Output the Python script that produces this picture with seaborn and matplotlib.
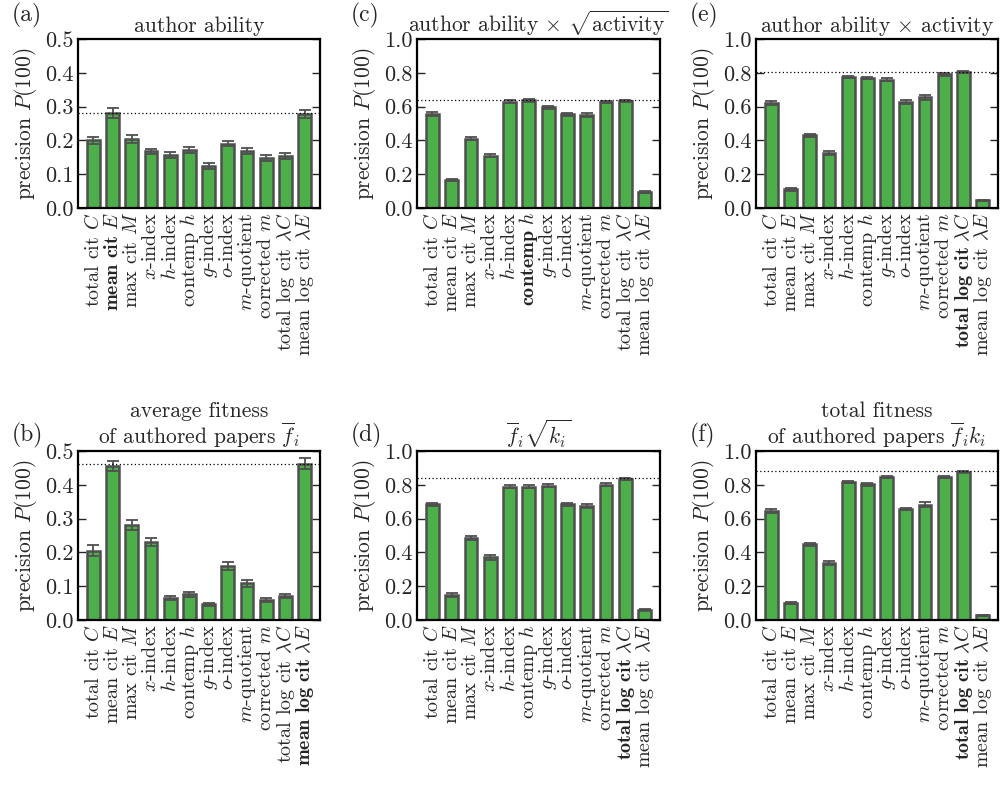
import numpy as np
import pandas as pd
import matplotlib
matplotlib.use("Agg")
import matplotlib.pyplot as plt
import seaborn as sns

#%% data
names = ["total cit $C$", "mean cit $E$", "max cit $M$", "$x$-index", "$h$-index",
         "contemp $h$", "$g$-index", "$o$-index", "$m$-quotient", "corrected $m$",
         "total log cit $\\lambda C$", "mean log cit $\\lambda E$"]

bold_names = {
    "a": (1, "$\\mathbf{mean\\ cit}\\ E$"),
    "b": (11, "$\\mathbf{mean\\ log\\ cit}\\ \\lambda E$"),
    "c": (5, "$\\mathbf{contemp}\\ h$"),
    "d": (10, "$\\mathbf{total\\ log\\ cit}\\ \\lambda C$"),
    "e": (10, "$\\mathbf{total\\ log\\ cit}\\ \\lambda C$"),
    "f": (10, "$\\mathbf{total\\ log\\ cit}\\ \\lambda C$"),
}

prec_a = [0.200, 0.280, 0.205, 0.168, 0.156, 0.172, 0.125, 0.190, 0.168, 0.147, 0.155, 0.278]
err_a = [0.010, 0.015, 0.012, 0.008, 0.009, 0.009, 0.009, 0.008, 0.009, 0.009, 0.009, 0.013]
prec_c = [0.555, 0.165, 0.410, 0.310, 0.630, 0.637, 0.595, 0.555, 0.552, 0.628, 0.635, 0.095]
err_c = [0.012, 0.008, 0.010, 0.010, 0.008, 0.007, 0.009, 0.010, 0.012, 0.008, 0.007, 0.006]
prec_e = [0.620, 0.110, 0.430, 0.325, 0.775, 0.770, 0.760, 0.628, 0.655, 0.790, 0.805, 0.045]
err_e = [0.012, 0.008, 0.008, 0.012, 0.006, 0.008, 0.008, 0.010, 0.014, 0.008, 0.005, 0.004]
prec_b = [0.205, 0.455, 0.282, 0.232, 0.065, 0.076, 0.046, 0.161, 0.108, 0.059, 0.070, 0.463]
err_b = [0.016, 0.015, 0.015, 0.012, 0.006, 0.007, 0.005, 0.012, 0.010, 0.006, 0.006, 0.016]
prec_d = [0.685, 0.150, 0.485, 0.370, 0.788, 0.788, 0.795, 0.685, 0.675, 0.800, 0.835, 0.062]
err_d = [0.010, 0.012, 0.010, 0.016, 0.008, 0.008, 0.008, 0.008, 0.013, 0.010, 0.006, 0.005]
prec_f = [0.645, 0.100, 0.447, 0.340, 0.815, 0.803, 0.845, 0.657, 0.683, 0.847, 0.877, 0.028]
err_f = [0.012, 0.008, 0.008, 0.012, 0.005, 0.008, 0.007, 0.008, 0.014, 0.007, 0.004, 0.003]

best = {"a": 0.280, "b": 0.463, "c": 0.637, "d": 0.838, "e": 0.805, "f": 0.880}

titles = {
    "a": "author ability",
    "c": "author ability $\\times$ $\\sqrt{\\mathrm{activity}}$",
    "e": "author ability $\\times$ activity",
    "b": "average fitness\nof authored papers $\\overline{f}_i$",
    "d": "$\\overline{f}_i\\sqrt{k_i}$",
    "f": "total fitness\nof authored papers $\\overline{f}_ik_i$",
}

#%% style
sns.set_style("ticks")
plt.rcParams["font.family"] = ["cmr10", "DejaVu Serif"]
plt.rcParams["mathtext.fontset"] = "cm"
plt.rcParams["axes.formatter.use_mathtext"] = True
plt.rcParams["font.size"] = 14
plt.rcParams["axes.unicode_minus"] = False

green = "#4daf4a"
edge = "#4f4f4f"

fig = plt.figure(figsize=(10, 8.06), dpi=100)

# pixel boxes (left, top, right, bottom)
boxes = {
    "a": (78, 39, 320, 208), "c": (417, 39, 660, 208), "e": (756, 39, 998, 208),
    "b": (78, 451, 320, 620), "d": (417, 451, 660, 620), "f": (756, 451, 998, 620),
}
panels = {"a": (prec_a, err_a, 0.5), "c": (prec_c, err_c, 1.0), "e": (prec_e, err_e, 1.0),
          "b": (prec_b, err_b, 0.5), "d": (prec_d, err_d, 1.0), "f": (prec_f, err_f, 1.0)}

W, H = 1000, 806
for key, (vals, errs, ymax) in panels.items():
    l, t, r, b = boxes[key]
    ax = fig.add_axes([l / W, 1 - b / H, (r - l) / W, (b - t) / H])

    labels = list(names)
    i, lab = bold_names[key]
    labels[i] = lab
    df = pd.DataFrame({"metric": labels, "precision": vals})

    sns.barplot(data=df, x="metric", y="precision", ax=ax, color=green,
                saturation=1, width=0.66, edgecolor=edge, linewidth=1.8)
    ax.errorbar(range(len(vals)), vals, yerr=errs, fmt="none", ecolor=edge,
                elinewidth=1.3, capsize=4, capthick=1.3)
    ax.axhline(best[key], color="black", ls=(0, (1, 2)), lw=0.9)

    ax.set_xlim(-0.8, 11.8)
    ax.set_ylim(0, ymax)
    step = 0.1 if ymax == 0.5 else 0.2
    ax.set_yticks(np.arange(0, ymax + 1e-9, step))
    ax.set_yticklabels([f"{v:.1f}" for v in np.arange(0, ymax + 1e-9, step)])
    ax.tick_params(axis="y", direction="in", length=6, width=1, right=True, labelsize=16)
    ax.tick_params(axis="x", length=0, labelsize=14.5, rotation=90, pad=3)
    for s in ax.spines.values():
        s.set_linewidth(1.6)
        s.set_color("black")
    ax.set_xlabel("")
    ax.set_ylabel("precision $P(100)$", fontsize=15.5, labelpad=4)
    ax.set_title(titles[key], fontsize=15.5, pad=5, linespacing=1.0)

    fig.text((l - 66) / W, 1 - (t - 36) / H if key in "ace" else 1 - (t - 28) / H,
             f"({key})", fontsize=17, va="top", ha="left")

fig.savefig("out.png", dpi=100)
